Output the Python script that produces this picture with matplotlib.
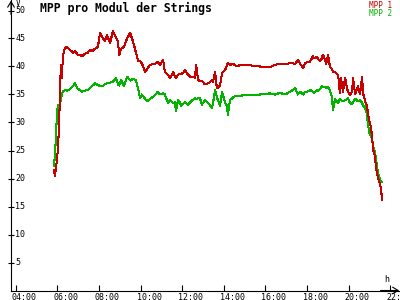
import matplotlib
matplotlib.use("Agg")
import matplotlib.pyplot as plt
import matplotlib.transforms as mtransforms

# sample times (HH:MM) shared by both strings
times = ["05:50", "05:53", "05:56", "05:59", "06:02", "06:05", "06:08", "06:10", "06:13", "06:16",
         "06:22", "06:28", "06:36", "06:45", "06:51", "06:59", "07:05", "07:11", "07:20", "07:28",
         "07:34", "07:40", "07:49", "07:57", "08:03", "08:12", "08:17", "08:23", "08:32", "08:40",
         "08:49", "08:55", "08:58", "09:04", "09:12", "09:21", "09:30", "09:38", "09:47", "09:53",
         "09:58", "10:04", "10:13", "10:19", "10:27", "10:42", "10:50", "10:56", "11:05", "11:10",
         "11:19", "11:25", "11:34", "11:39", "11:42", "11:48", "11:54", "11:57", "12:05", "12:08",
         "12:17", "12:23", "12:37", "12:40", "12:46", "12:51", "12:57", "13:06", "13:15", "13:26",
         "13:29", "13:35", "13:40", "13:49", "13:55", "14:04", "14:09", "14:12", "14:18", "14:27",
         "14:35", "14:47", "15:16", "15:45", "16:13", "16:28", "16:42", "16:57", "17:11", "17:26",
         "17:34", "17:40", "17:49", "17:54", "18:00", "18:09", "18:17", "18:20", "18:29", "18:32",
         "18:38", "18:43", "18:46", "18:52", "18:55", "19:01", "19:06", "19:12", "19:15", "19:21",
         "19:30", "19:35", "19:38", "19:44", "19:50", "19:56", "19:58", "20:04", "20:10", "20:13",
         "20:19", "20:27", "20:33", "20:39", "20:42", "20:45", "20:47", "20:50", "20:53", "20:56",
         "20:59", "21:05", "21:08", "21:11", "21:16", "21:19", "21:22", "21:25", "21:31", "21:34",
         "21:37"]

mpp1 = [21.5, 20.5, 22.0, 23.5, 25.7, 30.0, 36.0, 40.3, 38.0, 42.0,
        43.3, 43.5, 43.0, 42.5, 42.8, 42.0, 42.1, 41.8, 42.3, 42.5,
        43.0, 42.7, 43.2, 43.5, 46.0, 45.0, 44.6, 45.6, 44.2, 46.3,
        45.2, 44.5, 42.0, 43.2, 43.5, 45.0, 46.0, 44.5, 42.4, 40.9,
        41.0, 40.5, 39.1, 39.5, 40.3, 40.5, 40.8, 40.3, 41.2, 39.0,
        38.5, 37.9, 39.0, 38.2, 38.0, 38.5, 38.7, 38.6, 39.0, 39.4,
        38.5, 38.2, 38.0, 40.3, 37.6, 37.4, 37.4, 36.8, 37.0, 37.5,
        37.3, 39.0, 36.1, 36.6, 38.8, 39.4, 40.2, 40.6, 40.3, 40.5,
        40.1, 40.2, 40.2, 40.0, 39.9, 40.3, 40.5, 40.4, 40.6, 40.5,
        41.2, 40.5, 39.7, 40.5, 40.8, 40.9, 41.8, 41.5, 41.7, 41.3,
        40.9, 41.5, 42.1, 41.2, 40.5, 42.0, 40.0, 39.5, 39.1, 39.0,
        38.5, 35.2, 38.0, 35.5, 38.0, 36.0, 35.5, 34.9, 35.5, 37.9,
        35.0, 36.5, 35.0, 38.2, 35.0, 34.8, 33.8, 33.5, 33.0, 31.5,
        30.5, 29.0, 27.0, 25.1, 24.0, 22.0, 21.0, 20.0, 19.0, 17.7,
        16.2]

mpp2 = [22.2, 24.2, 27.5, 32.0, 33.2, 32.8, 33.5, 34.0, 35.2, 35.5,
        35.8, 35.7, 35.9, 36.5, 37.0, 36.0, 35.8, 35.5, 35.7, 35.8,
        36.2, 36.5, 37.0, 36.7, 36.5, 36.6, 36.8, 37.0, 37.1, 37.3,
        37.9, 36.8, 36.6, 37.6, 36.5, 38.2, 37.5, 37.8, 37.5, 36.0,
        34.4, 35.0, 34.2, 33.8, 34.2, 34.9, 35.5, 35.0, 35.2, 35.0,
        33.5, 34.0, 33.5, 33.6, 32.0, 34.0, 33.5, 33.0, 33.5, 33.6,
        33.2, 33.6, 34.4, 34.2, 34.3, 34.4, 33.2, 34.0, 33.5, 32.6,
        33.5, 35.8, 34.5, 33.0, 35.5, 33.5, 33.0, 31.4, 34.0, 34.5,
        34.8, 34.8, 34.9, 35.0, 35.2, 35.0, 35.3, 35.0, 35.5, 36.1,
        35.0, 35.5, 35.0, 35.4, 35.5, 35.8, 35.5, 35.3, 35.8, 35.6,
        36.0, 36.5, 36.4, 36.3, 36.2, 36.3, 35.8, 34.5, 32.2, 34.2,
        33.5, 34.2, 34.0, 33.8, 34.0, 34.2, 34.3, 33.5, 33.3, 33.6,
        34.2, 33.8, 34.0, 33.5, 33.0, 33.0, 32.5, 32.9, 31.0, 29.9,
        28.2, 27.5, 26.9, 25.8, 24.6, 23.5, 22.1, 21.0, 19.8, 19.5,
        19.4]

yticks = [5, 10, 15, 20, 25, 30, 35, 40, 45, 50]
xticks = ["04:00", "06:00", "08:00", "10:00", "12:00", "14:00", "16:00", "18:00", "20:00", "22:00"]

title = "MPP pro Modul der Strings"
names = ["MPP 1", "MPP 2"]
colors = ["#c80000", "#00b400"]


def to_hours(s):
    h, m = s.split(":")
    return int(h) + int(m) / 60


t = [to_hours(s) for s in times]

mono = "DejaVu Sans Mono"
fig = plt.figure(figsize=(4, 3), dpi=100)
fig.patch.set_facecolor("white")
ax = fig.add_axes([11 / 400, 9.5 / 300, 389 / 400, 290.5 / 300])
ax.set_xlim(3.77, 3.77 + 389 / 20.8)
ax.set_ylim(0, 290.5 / 5.6)

ax.plot(t, mpp2, color=colors[1], lw=0.75, antialiased=False)
ax.plot(t, mpp1, color=colors[0], lw=0.75, antialiased=False)

for s in ["top", "right"]:
    ax.spines[s].set_visible(False)
for s in ["left", "bottom"]:
    ax.spines[s].set_linewidth(0.8)

ax.set_yticks(yticks)
ax.set_yticklabels([])
ax.tick_params(axis="y", direction="inout", length=5, width=0.8)
xt = [to_hours(s) for s in xticks]
ax.set_xticks(xt)
ax.set_xticklabels([])
ax.tick_params(axis="x", direction="in", length=4, width=0.8)

# tick labels: right of the y axis, just below the x axis
ytr = ax.get_yaxis_transform() + mtransforms.ScaledTranslation(4.5 / 100, 0, fig.dpi_scale_trans)
for v in yticks:
    ax.text(0, v, str(v), transform=ytr, ha="left", va="center",
            fontsize=6, family=mono, clip_on=False)
xtr = ax.get_xaxis_transform() + mtransforms.ScaledTranslation(-4 / 100, -2 / 100, fig.dpi_scale_trans)
for v, lab in zip(xt, xticks):
    ax.text(v, 0, lab, transform=xtr, ha="left", va="top",
            fontsize=6, family=mono, clip_on=False)

# open chevron arrows at the axis ends
arrow = dict(arrowstyle="->,head_length=0.5,head_width=0.3", lw=0.8, color="black",
             shrinkA=0, shrinkB=0, mutation_scale=8)
ax.annotate("", xy=(0.998, 0), xytext=(0.95, 0), xycoords="axes fraction", arrowprops=arrow)
ax.annotate("", xy=(0, 0.998), xytext=(0, 0.95), xycoords="axes fraction", arrowprops=arrow)

fig.text(16 / 400, 1 - 3 / 300, "V", fontsize=5.5, family=mono, ha="left", va="center")
fig.text(387 / 400, 1 - 280 / 300, "h", fontsize=6, family=mono, ha="center", va="center")

fig.text(40 / 400, 1 - 8 / 300, title, fontsize=8.3, family=mono, weight="bold",
         ha="left", va="center")
fig.text(369 / 400, 1 - 5 / 300, names[0], fontsize=5.5, family=mono, color=colors[0],
         ha="left", va="center")
fig.text(369 / 400, 1 - 13 / 300, names[1], fontsize=5.5, family=mono, color=colors[1],
         ha="left", va="center")

fig.savefig("out.png", dpi=100, facecolor="white")
